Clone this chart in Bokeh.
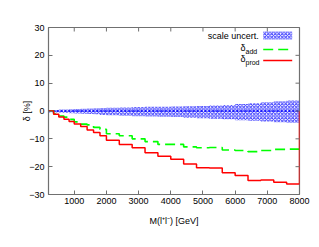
import math
from bokeh.plotting import figure
from bokeh.models import (Range1d, FixedTicker, Label, Arrow, BoxAnnotation)
from bokeh.embed import file_html
from bokeh.resources import INLINE

# ---- data ----
bin_edges = [200, 360, 520, 680, 840, 1000, 1200, 1400, 1600, 1800, 2000,
             2400, 2800, 3200, 3600, 4000, 4400, 4800, 5200, 5600, 6000,
             6400, 6800, 7200, 7600, 8000]
delta_prod = [0.0, -1.2, -2.2, -3.0, -3.8, -4.7, -5.6, -6.8, -7.7, -8.9,
              -10.5, -12.0, -13.2, -15.0, -16.3, -17.3, -19.0, -20.4, -20.5,
              -22.2, -23.2, -25.0, -24.8, -25.6, -26.2]
delta_add = [0.0, -1.0, -1.8, -2.2, -3.0, -3.9, -4.7, -5.0, -5.9, -6.6,
             -8.2, -8.9, -10.0, -11.0, -12.0, -12.0, -12.9, -13.2, -13.1,
             -14.0, -14.2, -14.6, -14.2, -13.8, -13.7]
scale_up = [0.4, 0.4, 0.5, 0.5, 0.6, 0.7, 0.8, 0.9, 1.0, 1.1, 1.2, 1.3, 1.4,
            1.5, 1.5, 1.6, 1.7, 1.8, 2.0, 2.2, 2.5, 2.8, 3.1, 3.5, 3.8]
scale_down = [-0.5, -0.5, -0.6, -0.7, -0.8, -0.9, -1.0, -1.1, -1.2, -1.4,
              -1.5, -1.7, -1.9, -2.0, -2.1, -2.2, -2.4, -2.6, -2.8, -3.0,
              -3.3, -3.5, -3.8, -4.0, -4.2]
central = [0.0] * len(delta_prod)
baseline = 0.0
x_min, x_max = 200, 8000
y_min, y_max = -30, 30
x_ticks = [1000, 2000, 3000, 4000, 5000, 6000, 7000, 8000]
y_ticks = [-30, -20, -10, 0, 10, 20, 30]
x_label = "M(l\u207Al\u207B) [GeV]"
y_label = "\u03B4 [%]"

FONT = "Liberation Sans"
FS = "9px"
FRAME = "#707070"
BLUE = "#2020ff"


def step_path(edges, vals):
    xs, ys = [], []
    for i, v in enumerate(vals):
        xs += [edges[i], edges[i + 1]]
        ys += [v, v]
    return xs, ys


p = figure(width=319, height=247, x_range=Range1d(x_min, x_max),
           y_range=Range1d(y_min, y_max), output_backend="svg",
           toolbar_location=None, min_border_left=48, min_border_right=20,
           min_border_top=27, min_border_bottom=53)
p.xgrid.visible = False
p.ygrid.visible = False
p.outline_line_color = FRAME
p.outline_line_width = 1.2
p.background_fill_color = "white"
p.border_fill_color = "white"

# scale uncertainty band
bx, bup = step_path(bin_edges, scale_up)
_, bdn = step_path(bin_edges, scale_down)
p.varea(x=bx, y1=bdn, y2=bup, fill_alpha=0, hatch_pattern="x",
        hatch_color=BLUE, hatch_scale=3.5, hatch_weight=1.0, hatch_alpha=0.9)
cx, cy = step_path(bin_edges, central)
p.line(cx, cy, line_color="#0000ff", line_width=1.5, line_dash="2 2")

# delta_add (green dashed)
gx, gy = step_path(bin_edges, delta_add)
p.line(gx, gy, line_color="#00ff00", line_width=1.6, line_dash="10 5")

# delta_prod (red)
rx, ry = step_path(bin_edges, delta_prod)
rx = rx + [bin_edges[-1]]
ry = ry + [baseline]
p.line(rx, ry, line_color="#ff0000", line_width=1.5)

# mirrored inward ticks on top and right edges (clipped to the frame)
p.scatter(x=x_ticks, y=[y_max] * len(x_ticks), marker="dash", size=8,
          angle=math.pi / 2, line_color=FRAME, line_width=1)
p.scatter(x=[x_max] * len(y_ticks), y=y_ticks, marker="dash", size=8,
          line_color=FRAME, line_width=1)

# axes
for ax in (p.xaxis[0], p.yaxis[0]):
    ax.axis_line_color = None
    ax.major_tick_in = 4
    ax.major_tick_out = 0
    ax.minor_tick_line_color = None
    ax.major_tick_line_color = FRAME
    ax.major_label_text_font = FONT
    ax.major_label_text_font_size = FS
    ax.major_label_text_color = "black"
    ax.axis_label_text_font = FONT
    ax.axis_label_text_font_size = FS
    ax.axis_label_text_font_style = "normal"
    ax.axis_label_text_color = "black"
p.xaxis[0].ticker = FixedTicker(ticks=x_ticks)
p.yaxis[0].ticker = FixedTicker(ticks=y_ticks)
p.xaxis[0].axis_label = x_label
p.yaxis[0].axis_label = y_label
p.xaxis[0].major_label_standoff = 3
p.xaxis[0].axis_label_standoff = 9
p.yaxis[0].major_label_standoff = 4
p.yaxis[0].axis_label_standoff = -6


def lab(text, x, y, size=FS, align="right"):
    p.add_layout(Label(x=x, y=y, x_units="screen", y_units="screen",
                       text=text, text_align=align, text_baseline="middle",
                       text_font=FONT, text_font_size=size,
                       text_color="black"))

# legend: texts as labels, samples as screen-unit annotations
lab("scale uncert.", 210.3, 159)
lab("\u03B4", 197, 146.3)
lab("add", 197, 143, size="7px", align="left")
lab("\u03B4", 197, 135.7)
lab("prod", 197, 131.7, size="7px", align="left")

p.add_layout(BoxAnnotation(left=214.7, right=243.7, bottom=155, top=163,
                           left_units="screen", right_units="screen",
                           bottom_units="screen", top_units="screen",
                           fill_alpha=0, line_color=None, hatch_pattern="x",
                           hatch_color=BLUE, hatch_scale=3.5,
                           hatch_weight=1.0, hatch_alpha=0.9))
p.add_layout(Arrow(x_start=214.7, y_start=145, x_end=243.7, y_end=145,
                   start_units="screen", end_units="screen", start=None,
                   end=None, line_color="#00ff00", line_width=1.6,
                   line_dash="10 5"))
p.add_layout(Arrow(x_start=214.7, y_start=134, x_end=243.7, y_end=134,
                   start_units="screen", end_units="screen", start=None,
                   end=None, line_color="#ff0000", line_width=1.5))

open("out.html", "w").write(file_html(p, INLINE))
